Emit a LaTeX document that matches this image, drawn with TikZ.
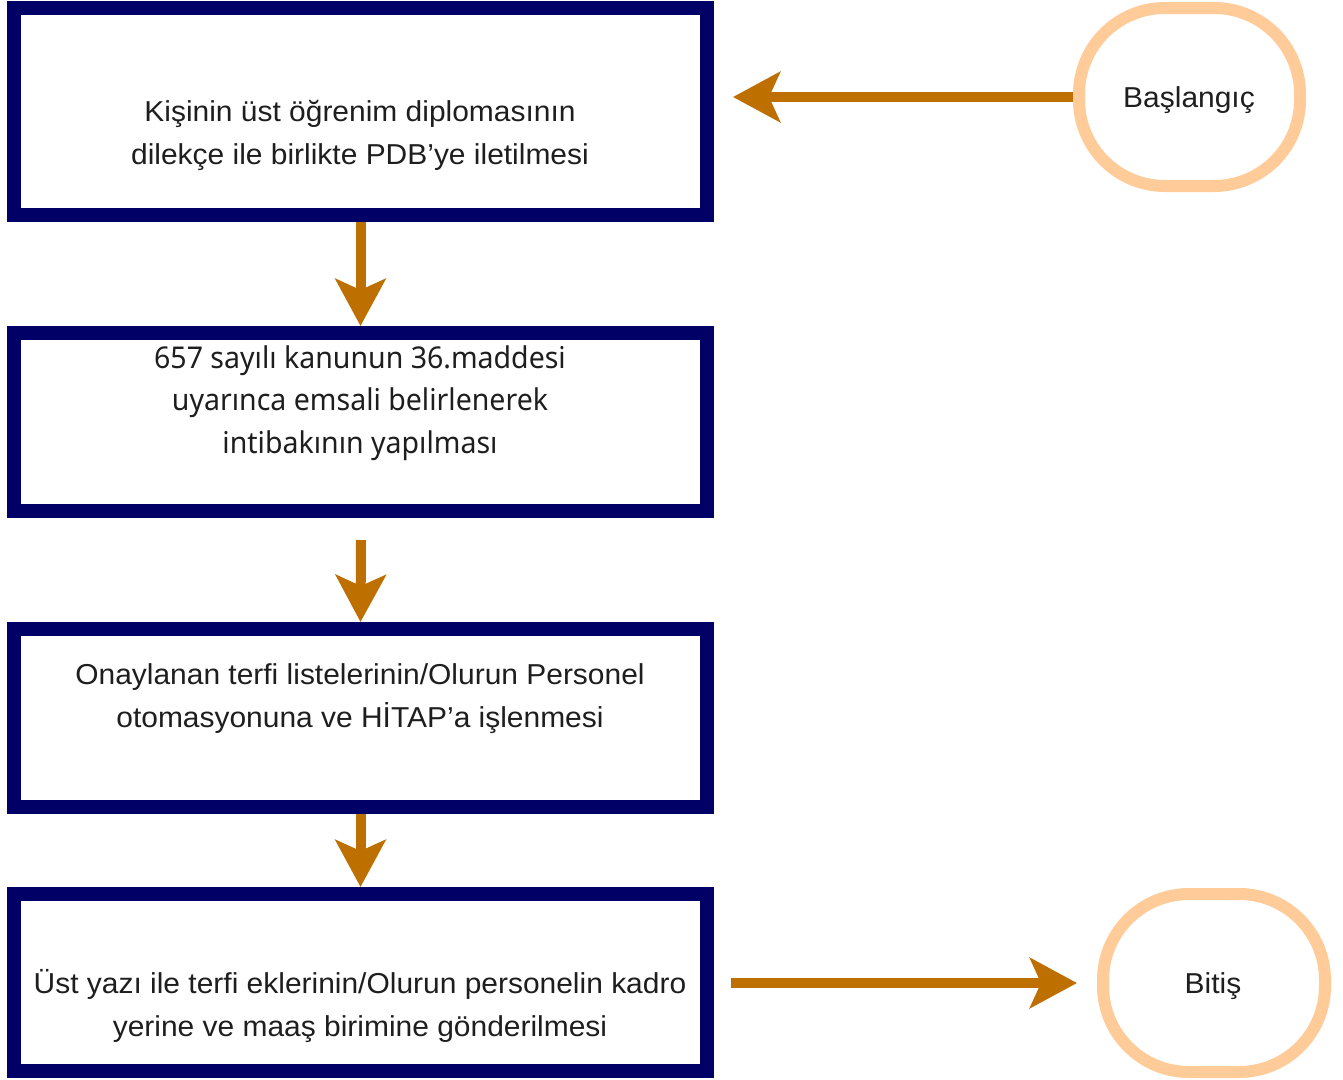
\documentclass[tikz,border=0pt]{standalone}
\usepackage{fontspec}
\setmainfont{Liberation Sans}[FakeStretch=1.04]
\newfontfamily\robofont{Noto Sans}[FakeStretch=0.95]
\usetikzlibrary{arrows.meta}
\definecolor{navy}{HTML}{000066}
\definecolor{arrowc}{HTML}{BD7000}
\definecolor{peach}{HTML}{FFCC99}
\definecolor{txtc}{HTML}{1E1E1E}
\tikzset{
  stepbox/.style={draw=navy, line width=14pt, fill=white, rectangle, inner sep=0pt},
  termbox/.style={draw=peach, line width=12pt, fill=white, rectangle, rounded corners=86pt, inner sep=0pt},
  txt/.style={text=txtc, align=center, inner sep=0pt, font=\fontsize{28.8}{43}\selectfont},
  flow/.style={draw=arrowc, line width=10pt, -{Stealth[length=47pt, width=50pt, inset=11pt]}}
}
\begin{document}
\begin{tikzpicture}[x=1pt, y=-1pt]
\useasboundingbox (0,0) rectangle (1343,1079);
% process boxes
\node[stepbox, minimum width=693pt, minimum height=207pt] (b1) at (360.5,111.5) {};
\node[stepbox, minimum width=693pt, minimum height=178pt] (b2) at (360.5,422) {};
\node[stepbox, minimum width=693pt, minimum height=178pt] (b3) at (360.5,718) {};
\node[stepbox, minimum width=693pt, minimum height=177pt] (b4) at (360.5,982.5) {};
% terminals
\node[termbox, minimum width=221pt, minimum height=178pt] (s) at (1189.5,97) {};
\node[termbox, minimum width=222pt, minimum height=178pt] (e) at (1214,983) {};
% texts
\node[txt] (t1) at (360,135) {Kişinin üst öğrenim diplomasının\\dilekçe ile birlikte PDB’ye iletilmesi};
\node[txt, font=\robofont\fontsize{30}{42.5}\selectfont] (t2) at (360,403) {657 sayılı kanunun 36.maddesi\\uyarınca emsali belirlenerek\\intibakının yapılması};
\node[txt] (t3) at (360,699) {Onaylanan terfi listelerinin/Olurun Personel\\otomasyonuna ve HİTAP’a işlenmesi};
\node[txt] (t4) at (360,1006) {Üst yazı ile terfi eklerinin/Olurun personelin kadro\\yerine ve maaş birimine gönderilmesi};
\node[txt] (ts) at (1189,100) {Başlangıç};
\node[txt] (te) at (1213,986) {Bitiş};
% free ends
\coordinate (a0e) at (733,97);
\coordinate (a2s) at (361,540);
\coordinate (a4s) at (731,983);
\coordinate (a4e) at (1077,983);
% connectors
\draw[flow] (s.west) -- (a0e);
\draw[flow] (b1.south) -- (b2.north);
\draw[flow] (a2s) -- (b3.north);
\draw[flow] (b3.south) -- (b4.north);
\draw[flow] (a4s) -- (a4e);
\end{tikzpicture}
\end{document}
